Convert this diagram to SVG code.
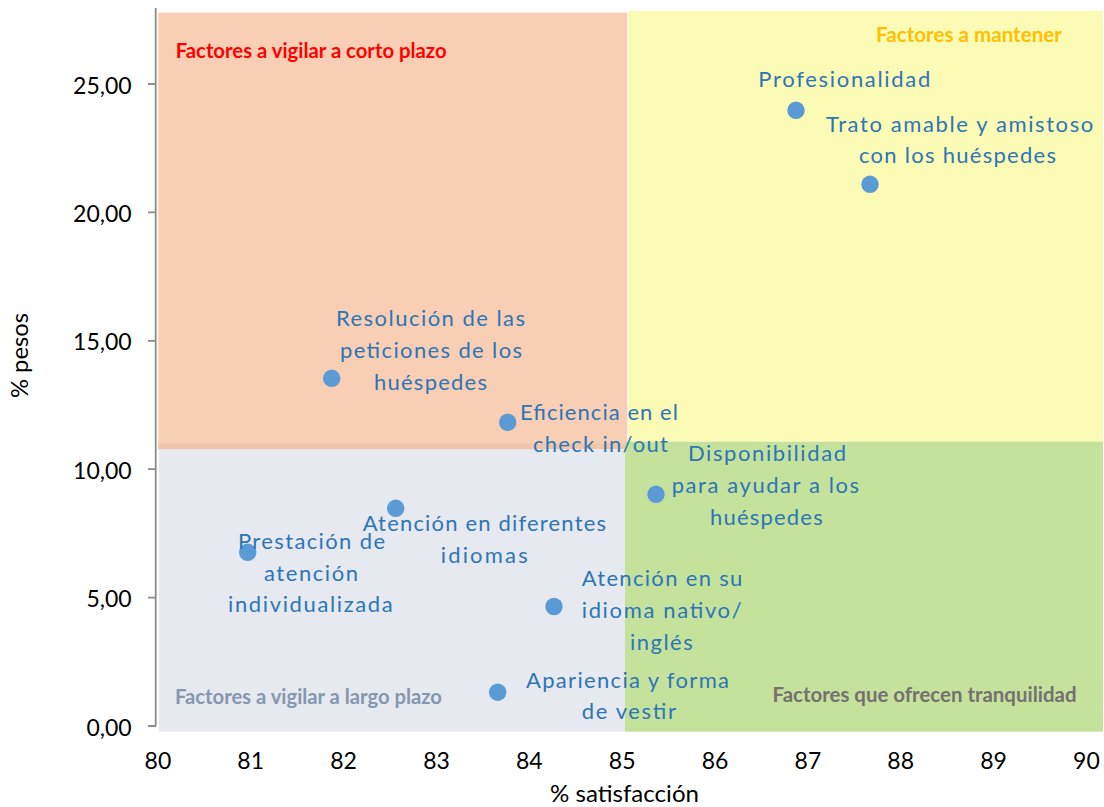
<svg xmlns="http://www.w3.org/2000/svg" width="1104" height="807" viewBox="0 0 1104 807">
<style>
text{font-family:Lato,"Open Sans","Liberation Sans",sans-serif}
.lbl{font-size:22px;fill:#2E75B6}
.tick{font-size:23px;fill:#000}
.ttl{font-size:23px;fill:#000}
.zone{font-size:20px;font-weight:bold}
.dot{fill:#5B9BD5}
.axis{stroke:#8C8C8C;stroke-width:1.8;fill:none}
</style>
<rect width="1104" height="807" fill="#fff"/>
<g id="quadrants">
<rect x="628.5" y="11" width="474.5" height="430.7" fill="#FBFBB5"/>
<rect x="158.3" y="12.7" width="469" height="436.6" fill="#F8CFB4"/>
<rect x="158.3" y="443.3" width="469" height="6" fill="#F1C5AB"/>
<rect x="159" y="449.3" width="466" height="282.4" fill="#E6E9EF"/>
<rect x="625" y="441.7" width="478" height="290" fill="#C4E29C"/>
<text class="zone" x="175.7" y="58" fill="#FF0000" textLength="271" lengthAdjust="spacingAndGlyphs">Factores a vigilar a corto plazo</text>
<text class="zone" x="876" y="42" fill="#FFC000" textLength="186" lengthAdjust="spacingAndGlyphs">Factores a mantener</text>
<text class="zone" x="175" y="704" fill="#8497B0" textLength="267" lengthAdjust="spacingAndGlyphs">Factores a vigilar a largo plazo</text>
<text class="zone" x="772.5" y="702" fill="#767171" textLength="304" lengthAdjust="spacingAndGlyphs">Factores que ofrecen tranquilidad</text>
</g>
<g id="axes">
<path class="axis" d="M155.7 8V726"/>
<path class="axis" d="M148 726H156M148 597.6H156M148 469.2H156M148 340.8H156M148 212.4H156M148 84H156"/>
<g class="tick" text-anchor="end">
<text x="131.7" y="735.5">0,00</text>
<text x="131.7" y="607">5,00</text>
<text x="131.7" y="478.7">10,00</text>
<text x="131.7" y="350.3">15,00</text>
<text x="131.7" y="221.9">20,00</text>
<text x="131.7" y="93.5">25,00</text>
</g>
<g class="tick" text-anchor="middle">
<text x="157.9" y="769.3">80</text>
<text x="250.7" y="769.3">81</text>
<text x="343.6" y="769.3">82</text>
<text x="436.5" y="769.3">83</text>
<text x="529.3" y="769.3">84</text>
<text x="622.2" y="769.3">85</text>
<text x="715" y="769.3">86</text>
<text x="807.9" y="769.3">87</text>
<text x="900.7" y="769.3">88</text>
<text x="993.6" y="769.3">89</text>
<text x="1086.4" y="769.3">90</text>
</g>
<text class="ttl" x="550" y="801.7" textLength="149" lengthAdjust="spacingAndGlyphs">% satisfacción</text>
<text class="ttl" transform="translate(28.3,398) rotate(-90)" textLength="85" lengthAdjust="spacingAndGlyphs">% pesos</text>
</g>
<g id="connectors"/>
<g id="node-profesionalidad">
<circle class="dot" cx="796" cy="110.3" r="8.7"/>
<text class="lbl" x="758.3" y="86.7" textLength="172" lengthAdjust="spacing">Profesionalidad</text>
</g>
<g id="node-trato">
<circle class="dot" cx="870" cy="184.3" r="8.7"/>
<text class="lbl" x="826" y="131.7" textLength="267.3" lengthAdjust="spacing">Trato amable y amistoso</text>
<text class="lbl" x="859" y="163.3" textLength="197" lengthAdjust="spacing">con los huéspedes</text>
</g>
<g id="node-resolucion">
<circle class="dot" cx="331.7" cy="378.3" r="8.7"/>
<text class="lbl" x="336" y="326" textLength="189" lengthAdjust="spacing">Resolución de las</text>
<text class="lbl" x="340" y="358.3" textLength="182" lengthAdjust="spacing">peticiones de los</text>
<text class="lbl" x="374" y="390" textLength="113" lengthAdjust="spacing">huéspedes</text>
</g>
<g id="node-eficiencia">
<circle class="dot" cx="507.7" cy="422.3" r="8.7"/>
<text class="lbl" x="520" y="420" textLength="158" lengthAdjust="spacing">Eficiencia en el</text>
<text class="lbl" x="533" y="451.7" textLength="135" lengthAdjust="spacing">check in/out</text>
</g>
<g id="node-disponibilidad">
<circle class="dot" cx="656" cy="494.3" r="8.7"/>
<text class="lbl" x="688" y="461" textLength="158" lengthAdjust="spacing">Disponibilidad</text>
<text class="lbl" x="671.7" y="493.3" textLength="187.3" lengthAdjust="spacing">para ayudar a los</text>
<text class="lbl" x="710" y="525" textLength="112.7" lengthAdjust="spacing">huéspedes</text>
</g>
<g id="node-atencion-idiomas">
<circle class="dot" cx="395.7" cy="508.3" r="8.7"/>
<text class="lbl" x="362.7" y="531" textLength="243.3" lengthAdjust="spacing">Atención en diferentes</text>
<text class="lbl" x="440.7" y="562.7" textLength="87" lengthAdjust="spacing">idiomas</text>
</g>
<g id="node-prestacion">
<circle class="dot" cx="247.7" cy="552.3" r="8.7"/>
<text class="lbl" x="238" y="549.3" textLength="147" lengthAdjust="spacing">Prestación de</text>
<text class="lbl" x="264" y="581" textLength="94" lengthAdjust="spacing">atención</text>
<text class="lbl" x="228" y="612.3" textLength="164.7" lengthAdjust="spacing">individualizada</text>
</g>
<g id="node-atencion-nativo">
<circle class="dot" cx="554" cy="606.5" r="8.7"/>
<text class="lbl" x="581.7" y="586" textLength="160.6" lengthAdjust="spacing">Atención en su</text>
<text class="lbl" x="581.7" y="617.7" textLength="160" lengthAdjust="spacing">idioma nativo/</text>
<text class="lbl" x="630" y="649.5" textLength="62.7" lengthAdjust="spacing">inglés</text>
</g>
<g id="node-apariencia">
<circle class="dot" cx="497.7" cy="692.2" r="8.7"/>
<text class="lbl" x="526" y="687.7" textLength="203" lengthAdjust="spacing">Apariencia y forma</text>
<text class="lbl" x="581.7" y="719" textLength="94.3" lengthAdjust="spacing">de vestir</text>
</g>
</svg>
